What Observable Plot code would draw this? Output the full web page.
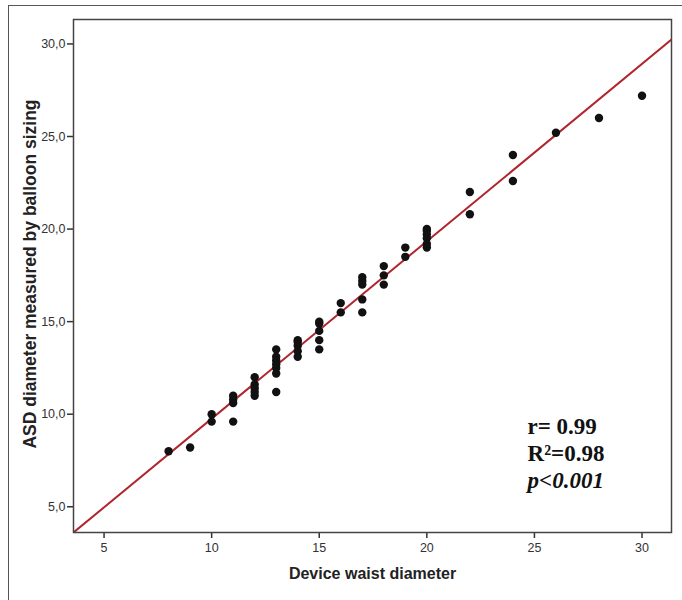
<!DOCTYPE html>
<html>
<head>
<meta charset="utf-8">
<script src="https://cdn.jsdelivr.net/npm/d3@7"></script>
<script src="https://cdn.jsdelivr.net/npm/@observablehq/plot@0.6"></script>
<style>
  html, body { margin: 0; padding: 0; background: #fff; overflow: hidden; }
  #chart { position: absolute; left: 0; top: 0; }
  #border { position: absolute; left: 8px; top: 5px; width: 800px; height: 800px;
            border: 1.5px solid #555; pointer-events: none; box-sizing: border-box; }
</style>
</head>
<body>
<div id="chart"></div>
<div id="border"></div>
<script>
// Device waist diameter (x) vs ASD diameter by balloon sizing (y)
const waist   = [8, 9, 10, 10, 11, 11, 11, 11, 12, 12, 12, 12, 12,
                 13, 13, 13, 13, 13, 13, 13, 14, 14, 14, 14, 14,
                 15, 15, 15, 15, 15, 16, 16, 17, 17, 17, 17, 17,
                 18, 18, 18, 19, 19, 20, 20, 20, 20, 20, 20,
                 22, 22, 24, 24, 26, 28, 30];
const balloon = [8.0, 8.2, 10.0, 9.6, 11.0, 10.8, 10.6, 9.6, 12.0, 11.6, 11.4, 11.2, 11.0,
                 13.5, 13.1, 12.9, 12.7, 12.5, 12.2, 11.2, 14.0, 13.9, 13.7, 13.4, 13.1,
                 15.0, 14.9, 14.5, 14.0, 13.5, 16.0, 15.5, 17.4, 17.2, 17.0, 16.2, 15.5,
                 18.0, 17.5, 17.0, 19.0, 18.5, 20.0, 19.9, 19.7, 19.5, 19.2, 19.0,
                 22.0, 20.8, 24.0, 22.6, 25.2, 26.0, 27.2];

// Fitted regression line
const fitIntercept = 0.18;
const fitSlope = 0.958;

const xTicks = [5, 10, 15, 20, 25, 30];
const yTicks = [5, 10, 15, 20, 25, 30];
const xDomain = [3.58, 31.37];
const yDomain = [3.61, 31.32];

const statsLabels = ["r= 0.99", "R\u00B2=0.98", "p<0.001"];
const statsY = [9.33, 7.85, 6.39];
const statsX = 24.68;

const xLabel = "Device waist diameter";
const yLabel = "ASD diameter measured by balloon sizing";

const points = waist.map((w, i) => ({x: w, y: balloon[i]}));
const fitLine = xDomain.map(x => ({x, y: fitIntercept + fitSlope * x}));
const stats = statsLabels.map((t, i) => ({t, x: statsX, y: statsY[i], italic: i === 2}));

const chart = Plot.plot({
  width: 682,
  height: 600,
  marginLeft: 73,
  marginRight: 11,
  marginTop: 19,
  marginBottom: 68,
  style: {fontFamily: "'Liberation Sans', Arial, sans-serif", fontSize: "12px", color: "#333", background: "transparent"},
  x: {domain: xDomain, ticks: xTicks},
  y: {domain: yDomain, ticks: yTicks, tickFormat: d => d.toFixed(1).replace(".", ",")},
  marks: [
    Plot.axisX({ticks: xTicks, tickSize: 6, tickPadding: 5, label: null, stroke: "#333", strokeWidth: 1.5, fontSize: 12.5}),
    Plot.axisY({ticks: yTicks, tickSize: 6, tickPadding: 2, label: null, stroke: "#333", strokeWidth: 1.5, fontSize: 12.5,
                tickFormat: d => d.toFixed(1).replace(".", ",")}),
    Plot.line(fitLine, {x: "x", y: "y", stroke: "#b0262e", strokeWidth: 2, clip: true}),
    Plot.dot(points, {x: "x", y: "y", r: 4.2, fill: "#111", stroke: "none"}),
    Plot.frame({stroke: "#444", strokeWidth: 1.5}),
    Plot.text(stats.filter(d => !d.italic), {x: "x", y: "y", text: "t", textAnchor: "start",
      fontFamily: "'Liberation Serif', 'Times New Roman', serif", fontSize: 23, fontWeight: "bold", fill: "#111"}),
    Plot.text(stats.filter(d => d.italic), {x: "x", y: "y", text: "t", textAnchor: "start",
      fontFamily: "'Liberation Serif', 'Times New Roman', serif", fontSize: 23, fontWeight: "bold", fontStyle: "italic", fill: "#111"}),
    Plot.text([xLabel], {frameAnchor: "bottom", dy: 46, text: d => d, fontSize: 16, fontWeight: "bold", fill: "#222"}),
    Plot.text([yLabel], {frameAnchor: "left", textAnchor: "middle", dx: -43, dy: -2, rotate: -90, text: d => d, fontSize: 17.5, fontWeight: "bold", fill: "#222"})
  ]
});
document.getElementById("chart").appendChild(chart);
</script>
</body>
</html>
